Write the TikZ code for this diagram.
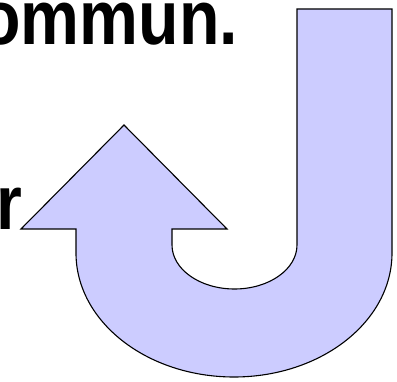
\documentclass[tikz,border=0pt]{standalone}
\usepackage{fontspec}
\usepackage{graphicx}
\setmainfont{Liberation Sans}
\definecolor{arrowfill}{HTML}{CCCCFF}
\tikzset{
  bigtext/.style={inner sep=0pt, outer sep=0pt, font=\bfseries\fontsize{77}{77}\selectfont},
  uturn/.style={fill=arrowfill, draw=black, line width=1.1pt, line join=miter}
}
\begin{document}
\begin{tikzpicture}[x=1pt,y=-1pt]
\useasboundingbox (0,0) rectangle (397,382);
% U-turn arrow
\path[uturn] (124,125) coordinate (tip)
  -- (227,229) -- (172,229) -- (172,245)
  arc[start angle=180, end angle=0, x radius=62.5, y radius=44]
  -- (297,9) -- (392,9) -- (392,253)
  arc[start angle=0, end angle=180, x radius=158, y radius=124]
  -- (76,229) -- (21,229) -- cycle;
% texts
\node[bigtext, anchor=base east] (t1) at (238,45) {\scalebox{0.86}[1]{ommun.}};
\node[bigtext, anchor=base west] (t2) at (-3,230) {\scalebox{0.86}[1]{r}};
\end{tikzpicture}
\end{document}
